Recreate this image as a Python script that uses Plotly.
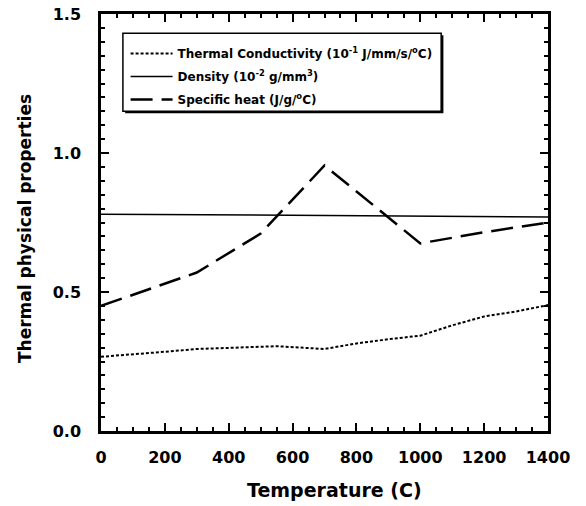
import plotly.graph_objects as go

# Data
tc_temp = [0, 100, 200, 300, 400, 550, 700, 800, 900, 1000, 1100, 1200, 1300, 1400]
tc_val = [0.267, 0.275, 0.285, 0.295, 0.300, 0.305, 0.295, 0.315, 0.330, 0.343, 0.380, 0.412, 0.430, 0.453]

dens_temp = [0, 1400]
dens_val = [0.78, 0.77]

sh_temp = [0, 300, 500, 700, 1000, 1200, 1400]
sh_val = [0.45, 0.57, 0.71, 0.955, 0.675, 0.715, 0.75]

x_ticks = [0, 200, 400, 600, 800, 1000, 1200, 1400]
y_ticks = [0.0, 0.5, 1.0, 1.5]

x_title = "Temperature (C)"
y_title = "Thermal physical properties"

WIDE = "DejaVu Sans, Liberation Sans, sans-serif"

fig = go.Figure()
fig.add_trace(go.Scatter(
    x=tc_temp, y=tc_val, mode="lines", legendgroup="a",
    name="Thermal Conductivity (10<sup>-1</sup> J/mm/s/<sup>o</sup>C)",
    line=dict(color="black", width=2, dash="3px,2px")))
fig.add_trace(go.Scatter(
    x=dens_temp, y=dens_val, mode="lines", legendgroup="b",
    name="Density (10<sup>-2</sup> g/mm<sup>3</sup>)",
    line=dict(color="black", width=1.5)))
fig.add_trace(go.Scatter(
    x=sh_temp, y=sh_val, mode="lines", legendgroup="c",
    name="Specific heat (J/g/<sup>o</sup>C)",
    line=dict(color="black", width=2.5, dash="22px,9px")))

axis_common = dict(
    showgrid=False, zeroline=False, showline=True, linecolor="black",
    linewidth=2.5, mirror="allticks", ticks="inside", ticklen=8,
    tickwidth=2, tickcolor="black", automargin=False,
    tickfont=dict(family=WIDE, size=16, color="black", weight="bold"),
)

fig.update_xaxes(
    range=[0, 1400], tickvals=x_ticks,
    ticktext=[str(v) for v in x_ticks],
    minor=dict(dtick=50, ticks="inside", ticklen=4, tickwidth=2, tickcolor="black"),
    ticklabelstandoff=10,
    **axis_common)
fig.update_yaxes(
    range=[0, 1.5], tickvals=y_ticks,
    ticktext=["%.1f" % v for v in y_ticks],
    minor=dict(dtick=0.05, ticks="inside", ticklen=4, tickwidth=2, tickcolor="black"),
    ticklabelstandoff=14,
    **axis_common)

# axis titles as annotations (placed as in the reference)
fig.add_annotation(text=x_title, xref="paper", yref="paper",
                   x=(334 - 101) / 447, y=-(490 - 431) / 417,
                   xanchor="center", yanchor="middle", showarrow=False,
                   font=dict(family=WIDE, size=19, color="black", weight="bold"))
fig.add_annotation(text=y_title, xref="paper", yref="paper",
                   x=-(101 - 25) / 447, y=(431 - 229) / 417, textangle=-90,
                   xanchor="center", yanchor="middle", showarrow=False,
                   font=dict(family=WIDE, size=17, color="black", weight="bold"))

# legend box with shadow
fig.add_shape(type="rect", xref="paper", yref="paper",
              x0=0.054, x1=0.766, y0=0.762, y1=0.949,
              fillcolor="black", line=dict(width=0), layer="below")
fig.add_shape(type="rect", xref="paper", yref="paper",
              x0=0.049, x1=0.761, y0=0.767, y1=0.954,
              fillcolor="white", line=dict(color="black", width=1.5), layer="below")

fig.update_layout(
    width=586, height=506,
    margin=dict(l=101, r=38, t=14, b=75),
    plot_bgcolor="white", paper_bgcolor="white",
    showlegend=True,
    legend=dict(x=0.055, y=0.94, xanchor="left", yanchor="top",
                bgcolor="rgba(0,0,0,0)", borderwidth=0, itemwidth=42,
                font=dict(family=WIDE, size=12, color="black", weight="bold"),
                tracegroupgap=4),
)

fig.write_html("out.html")
